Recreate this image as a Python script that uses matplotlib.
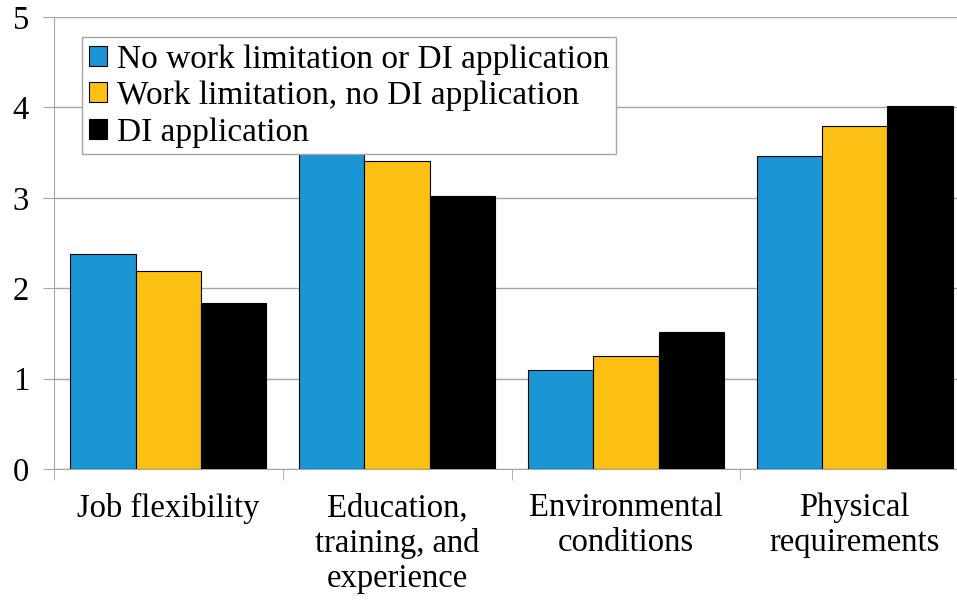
import numpy as np
import matplotlib.pyplot as plt

categories = ['Job flexibility', 'Education,\ntraining, and\nexperience',
              'Environmental\nconditions', 'Physical\nrequirements']
series = ['No work limitation or DI application',
          'Work limitation, no DI application',
          'DI application']
no_limit = [2.38, 3.48, 1.10, 3.46]
limit_no_di = [2.19, 3.41, 1.25, 3.79]
di_app = [1.84, 3.02, 1.51, 4.01]
colors = ['#1996d3', '#fcbf14', '#000000']

plt.rcParams['font.family'] = ['Liberation Serif', 'DejaVu Serif']

fig = plt.figure(figsize=(9.57, 6.01), dpi=100)
# axes spans x 54..969 px (right side cropped), y 17..469 px
ax = fig.add_axes([54 / 957, (601 - 469) / 601, 915 / 957, 452 / 601])

x = np.arange(len(categories))
w = 1 / 3.5
for i, (vals, name) in enumerate(zip([no_limit, limit_no_di, di_app], series)):
    ax.bar(x + (i - 1) * w, vals, w, color=colors[i], edgecolor='black',
           linewidth=0.8, label=name, zorder=3)

ax.set_xlim(-0.5, len(categories) - 0.5)
ax.set_ylim(0, 5)
ax.set_yticks(range(6))
ax.yaxis.grid(True, color='#a6a6a6', linewidth=1, zorder=0)
for s in ['top', 'right']:
    ax.spines[s].set_visible(False)
for s in ['left', 'bottom']:
    ax.spines[s].set_color('#a6a6a6')

ax.set_xticks(np.arange(len(categories) + 1) - 0.5, minor=True)
ax.set_xticks(x)
ax.set_xticklabels(categories, fontsize=23.5, linespacing=1.2)
ax.tick_params(axis='x', which='major', length=0, pad=17)
ax.tick_params(axis='x', which='minor', length=8, color='#a6a6a6')
ax.tick_params(axis='y', length=8, color='#a6a6a6', labelsize=23.5, pad=10)

leg = ax.legend(loc='upper left', bbox_to_anchor=(0.031, 0.955), fontsize=24,
                frameon=True, fancybox=False, handlelength=0.55,
                handleheight=0.55, handletextpad=0.3, labelspacing=0.18,
                borderpad=0.2, borderaxespad=0, framealpha=1)
leg.get_frame().set_edgecolor('#a6a6a6')
leg.get_frame().set_linewidth(1)
leg.set_zorder(5)

fig.savefig('out.png', dpi=100)
